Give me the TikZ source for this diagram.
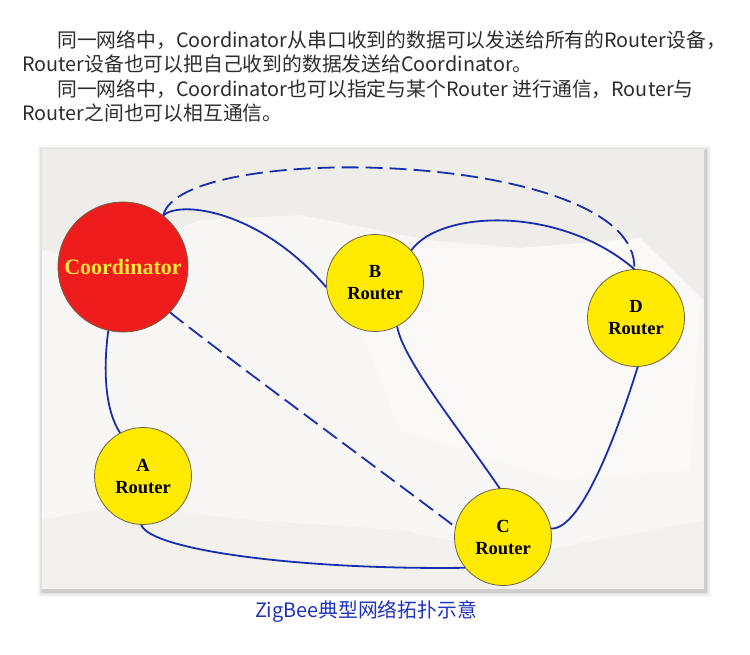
\documentclass[tikz,border=0pt]{standalone}
\usepackage{fontspec}
\setmainfont{Liberation Serif}
\newfontfamily\cjk{Noto Sans CJK SC}
\definecolor{linkblue}{RGB}{25,45,175}
\definecolor{cored}{RGB}{238,28,28}
\definecolor{nodeyellow}{RGB}{255,234,0}
\definecolor{nodeedge}{RGB}{110,100,70}
\definecolor{cotext}{RGB}{255,228,60}
\definecolor{toptext}{RGB}{45,45,45}
\definecolor{capblue}{RGB}{30,50,190}
\definecolor{paper}{RGB}{248,247,245}
\definecolor{paperdark}{RGB}{237,235,231}
\begin{document}
\begin{tikzpicture}[x=1pt,y=-1pt,
  link/.style={draw=linkblue,line width=1.8pt},
  dlink/.style={link,dash pattern=on 17pt off 7pt},
  router/.style={circle,draw=nodeedge,fill=nodeyellow,line width=0.8pt,minimum size=97pt,inner sep=0pt,align=center,
    font=\bfseries\fontsize{18.5}{22}\selectfont},
  coord/.style={circle,draw=nodeedge,fill=cored,line width=0.8pt,minimum size=130pt,inner sep=0pt,
    text=cotext,font=\bfseries\fontsize{22}{24}\selectfont},
  para/.style={anchor=base west,inner sep=0pt,text=toptext,font=\cjk\fontsize{19.8}{22}\selectfont}]
\useasboundingbox (0,0) rectangle (750,654);
\fill[white] (0,0) rectangle (750,654);
% top text
\node[para] (l1) at (57,47) {同一网络中，Coordinator从串口收到的数据可以发送给所有的Router设备，};
\node[para] (l2) at (22,71.5) {Router设备也可以把自己收到的数据发送给Coordinator。};
\node[para] (l3) at (57,96) {同一网络中，Coordinator也可以指定与某个Router 进行通信，Router与};
\node[para] (l4) at (22,120.5) {Router之间也可以相互通信。};
% frame shadow
\foreach \s/\o in {6/0.025,4.5/0.04,3/0.06,1.5/0.08}{
  \fill[black,opacity=\o] (42-\s+1,149-\s+2) rectangle (704+\s+1,589+\s+2);
}
\fill[paper] (42,149) rectangle (704,589);
% subtle background shapes
\fill[paperdark,opacity=0.8] (42,149) -- (704,149) -- (704,300) -- (640,238) -- (520,248) -- (430,240) -- (300,215) -- (200,220) -- (100,260) -- (42,250) -- cycle;
\fill[paperdark,opacity=0.45] (42,520) -- (120,505) -- (250,520) -- (400,530) -- (520,555) -- (704,520) -- (704,589) -- (42,589) -- cycle;
\fill[white,opacity=0.35] (330,250) -- (520,248) -- (640,238) -- (700,300) -- (690,470) -- (560,480) -- (400,430) -- cycle;
% nodes
\node[coord] (co) at (123,267) {Coordinator};
\node[router] (b) at (375,283) {B\\Router};
\node[router] (d) at (636,318) {D\\Router};
\node[router] (a) at (143,476) {A\\Router};
\node[router] (c) at (503,537) {C\\Router};
% links
\draw[link] (co.52) .. controls (180,200) and (260,210) .. (b.185);
\draw[dlink] (co.52) .. controls (180,140) and (640,150) .. (d.92);
\draw[link] (b.42) .. controls (440,210) and (560,205) .. (d.92);
\draw[link] (co.257) .. controls (103,370) and (105,410) .. (a.118);
\draw[dlink] (co.-44) .. controls (230,360) and (380,470) .. (c.168);
\draw[link] (b.-63) .. controls (403,360) and (460,430) .. (c.94);
\draw[link] (d.-88) .. controls (615,440) and (580,530) .. (c.10);
\draw[link] (a.-92) .. controls (150,550) and (300,570) .. (c.219);
% caption
\node[text=capblue,font=\cjk\fontsize{19.8}{22}\selectfont,inner sep=0pt] (cap) at (366,612) {ZigBee典型网络拓扑示意};
\end{tikzpicture}
\end{document}
